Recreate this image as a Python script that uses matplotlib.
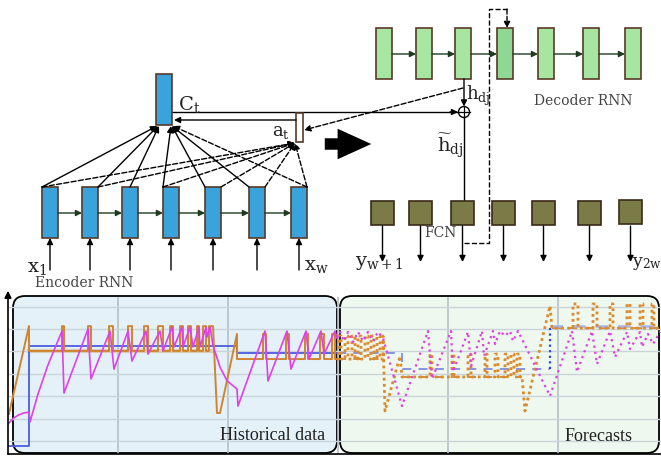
import matplotlib
matplotlib.use('Agg')
import matplotlib.pyplot as plt
from matplotlib.patches import Rectangle, FancyBboxPatch, Circle, FancyArrowPatch

plt.rcParams['mathtext.fontset'] = 'dejavuserif'

# ---- chart data (t = time step, value) ----
hist_blue_t = [0, 21, 21, 229, 229, 329]
hist_blue_v = [-0.22, -0.22, 4.24, 4.24, 3.93, 3.93]
hist_beige_t = [21, 205]
hist_beige_v = [4.02, 4.02]

orange_spikes_a = [(54, 56), (80, 83), (101, 105), (120, 124), (136, 140), (150, 155),
                   (162, 165), (172, 175), (180, 183), (189, 191), (195, 198)]
orange_spikes_b = [(255, 258), (278, 281), (297, 300), (312, 316), (324, 327)]
orange_fc_spikes_a = [(331, 333), (337, 340), (344, 347), (350, 353), (357, 360), (363, 366), (369, 372)]
orange_fc_spikes_b = [(422, 424), (444, 446), (460, 463), (477, 479), (487, 490), (497, 500),
                      (503, 506), (509, 512)]
orange_fc_spikes_c = [(565, 570), (585, 589), (602, 605), (619, 622), (632, 635), (644, 646)]

hist_magenta_t = [0, 5, 10, 15, 21, 22, 30, 40, 54, 56, 80, 83, 102, 106, 120, 124, 138, 140,
                  152, 155, 164, 166, 174, 175, 182, 185, 191, 192, 198, 199, 202, 205,
                  212, 219, 229, 230, 257, 260, 279, 283, 298, 301, 313, 316, 327, 329]
hist_magenta_v = [0.76, 1.0, 1.15, 1.24, 1.29, 0.85, 2.1, 3.4, 4.91, 2.14, 5.0, 2.77, 4.91, 3.21,
                  4.91, 3.57, 4.91, 3.88, 4.91, 4.02, 5.09, 4.2, 5.09, 4.2, 5.09, 4.2, 5.09, 4.2,
                  5.09, 4.64, 5.09, 4.26, 3.3, 2.69, 2.32, 1.56, 4.91, 2.68, 4.91, 3.21, 4.91,
                  3.66, 4.91, 3.88, 4.91, 4.6]

fc_magenta_t = [329, 332, 336, 340, 345, 350, 355, 360, 365, 370, 375, 394, 420, 424, 443, 445,
                460, 463, 474, 476, 485, 487, 492, 497, 502, 505, 510, 542, 564, 569, 584, 589,
                602, 607, 619, 622, 632, 634, 640, 645, 652]
fc_magenta_v = [4.6, 4.87, 4.46, 4.87, 4.42, 4.87, 4.46, 4.87, 4.46, 4.87, 4.6, 1.56, 4.91, 2.77,
                4.91, 3.08, 4.87, 3.35, 4.91, 3.79, 4.91, 4.33, 4.91, 4.69, 4.91, 4.46, 4.91,
                2.01, 4.91, 3.08, 4.91, 3.44, 4.91, 3.75, 4.87, 4.11, 4.87, 4.2, 4.78, 4.33, 4.87]

fc_blue_t = [329, 394, 394, 542]
fc_blue_v = [3.93, 3.93, 3.21, 3.21]
fc_blue_jump_v = [3.21, 5.13]
fc_blue_high_t = [542, 653]
fc_blue_high_v = [5.13, 5.13]

ORANGE = '#cf8530'
MAGENTA = '#e040e6'
BLUE = '#4a5de0'


def pulses(t0, t1, base, top, spans):
    t, v = [t0], [base]
    for a, b in spans:
        t += [a, a, b, b]
        v += [base, top, top, base]
    t.append(t1)
    v.append(base)
    return t, v


# orange historical series
ot, ov = [1, 21, 21], [1.21, 5.13, 4.02]
pt, pv = pulses(21, 201, 4.02, 5.13, orange_spikes_a)
ot += pt + [201, 205, 209, 212, 229, 229]
ov += pv + [5.13, 5.13, 1.25, 1.25, 4.78, 3.66]
pt, pv = pulses(229, 329, 3.66, 4.78, orange_spikes_b)
ot += pt
ov += pv

# orange forecast series
ft, fv = pulses(329, 375, 3.66, 4.69, orange_fc_spikes_a)
ft += [375, 377, 392, 394]
fv += [4.69, 1.34, 3.79, 2.86]
pt, pv = pulses(394, 514, 2.86, 3.88, orange_fc_spikes_b)
ft += pt + [517, 542, 544]
fv += pv + [1.34, 6.03, 5.04]
pt, pv = pulses(544, 653, 5.04, 6.12, orange_fc_spikes_c)
ft += pt
fv += pv

# ---- figure ----
fig = plt.figure(figsize=(6.61, 4.60), dpi=100)
ax = fig.add_axes([0, 0, 1, 1])
ax.set_xlim(0, 661)
ax.set_ylim(460, 0)
ax.axis('off')

EDGE = '#5a3a28'
enc_x = [42, 82, 122, 163, 205, 249, 291]
dec_x = [376, 416, 455, 497, 538, 583, 625]
fcn_x = [371, 409, 451, 492, 532, 578, 619]


def arrow(x0, y0, x1, y1, ls='-', color='k', lw=1.0, ms=9):
    ax.annotate('', xy=(x1, y1), xytext=(x0, y0),
                arrowprops=dict(arrowstyle='-|>', lw=lw, ls=ls, color=color,
                                mutation_scale=ms, shrinkA=0, shrinkB=0))


# encoder
for i, x in enumerate(enc_x):
    ax.add_patch(Rectangle((x, 188), 16, 51, fc='#3aa3dc', ec=EDGE, lw=1.2, zorder=3))
    arrow(x + 8, 271, x + 8, 239)
    if i < len(enc_x) - 1:
        arrow(x + 16, 214, enc_x[i + 1], 214, color='#1f3a1f')

# context box C_t and a_t
ax.add_patch(Rectangle((156, 75), 16, 51, fc='#3aa3dc', ec=EDGE, lw=1.2, zorder=3))
ax.add_patch(Rectangle((296, 114), 7, 29, fc='white', ec=EDGE, lw=1.2, zorder=3))

for sx, ex in [(42, 157), (98, 158), (130, 159), (163, 171), (205, 172), (249, 172)]:
    arrow(sx, 188, ex, 127)
arrow(307, 188, 173, 127, ls='--')
for sx in [42, 98, 163, 221, 265, 307]:
    arrow(sx, 188, 295, 144, ls='--')

ax.plot([172, 458], [113, 113], color='k', lw=1.0)
arrow(450, 113, 458, 113)
arrow(296, 121, 174, 121)
arrow(463, 89, 304, 131, ls='--')

# big arrow
ax.add_patch(FancyArrowPatch((322, 145), (374, 145),
                             arrowstyle='simple,head_length=2.2,head_width=2.0,tail_width=0.75',
                             mutation_scale=11, color='k', lw=0))

# decoder
for i, x in enumerate(dec_x):
    fc = '#8fd894' if i == 3 else '#a6e6a0'
    ax.add_patch(Rectangle((x, 29), 16, 51, fc=fc, ec=EDGE, lw=1.2, zorder=3))
    if i < len(dec_x) - 1:
        arrow(x + 16, 55, dec_x[i + 1], 55, color='#1f3a1f')

# sum node
ax.add_patch(Circle((464, 113), 5.5, fc='white', ec='k', lw=1.0, zorder=4))
ax.plot([458.5, 469.5], [113, 113], color='k', lw=0.9, zorder=5)
ax.plot([464, 464], [107.5, 118.5], color='k', lw=0.9, zorder=5)
arrow(464, 80, 464, 107.5)
ax.plot([464, 464], [118.5, 202], color='k', lw=1.0)

# FCN
for i, x in enumerate(fcn_x):
    ax.add_patch(Rectangle((x, 202 if i < 6 else 201), 23, 24, fc='#7b7b48', ec='#3a2a18',
                           lw=1.2, zorder=3))
    arrow(x + 11.5, 227, x + 11.5, 263)

# feedback loop
ax.plot([464, 489, 489, 507], [244, 244, 10, 10], color='k', lw=1.0, ls='--')
arrow(507, 10, 507, 29, ls='--')

# labels
tk = dict(color='#222222', zorder=6)
ax.text(178, 110, r'$\mathrm{C}_\mathrm{t}$', fontsize=14, ha='left', va='baseline', **tk)
ax.text(272, 136, r'$\mathrm{a}_\mathrm{t}$', fontsize=13, ha='left', va='baseline', **tk)
ax.text(466, 100, r'$\mathrm{h}_\mathrm{dj}$', fontsize=13, ha='left', va='baseline', **tk)
ax.text(437, 152, r'$\widetilde{\mathrm{h}}_\mathrm{dj}$', fontsize=14, ha='left', va='baseline', **tk)
ax.text(27, 272, r'$\mathrm{x}_1$', fontsize=14, ha='left', va='baseline', **tk)
ax.text(304, 270, r'$\mathrm{x}_\mathrm{w}$', fontsize=14, ha='left', va='baseline', **tk)
ax.text(355, 266, r'$\mathrm{y}_{\mathrm{w+1}}$', fontsize=14, ha='left', va='baseline', **tk)
ax.text(632, 266, r'$\mathrm{y}_{\mathrm{2w}}$', fontsize=12.5, ha='left', va='baseline', **tk)
ax.text(84, 283, 'Encoder RNN', fontsize=10, family='DejaVu Serif', ha='center', va='center',
        color='#444444')
ax.text(583, 101, 'Decoder RNN', fontsize=10, family='DejaVu Serif', ha='center', va='center',
        color='#444444')
ax.text(440, 233, 'FCN', fontsize=10, family='DejaVu Serif', ha='center', va='center',
        color='#444444')

# chart panels
ax.add_patch(FancyBboxPatch((13, 297), 324, 157, boxstyle='round,pad=0,rounding_size=12',
                            fc='#e4f1f9', ec='k', lw=1.3))
ax.add_patch(FancyBboxPatch((340, 297), 319, 157, boxstyle='round,pad=0,rounding_size=12',
                            fc='#eff8ee', ec='k', lw=1.3))

ax2 = fig.add_axes([8 / 661, 5 / 460, 653 / 661, 157 / 460])
ax2.set_facecolor('none')
ax2.set_xlim(0, 653)
ax2.set_ylim(-0.58, 6.43)
for s in ['top', 'right', 'left']:
    ax2.spines[s].set_visible(False)
ax2.spines['bottom'].set_color('k')
ax2.spines['bottom'].set_linewidth(1.2)
ax2.set_xticks([110, 220, 330, 440, 550])
ax2.set_yticks(range(7))
ax2.tick_params(length=0, labelbottom=False, labelleft=False)
ax2.grid(axis='y', color='#c9d3da', lw=1.0)
ax2.grid(axis='x', color='#b4c0c6', lw=1.2)
ax2.annotate('', xy=(0, 1.04), xytext=(0, 0), xycoords='axes fraction',
             arrowprops=dict(arrowstyle='-|>', lw=1.2, color='k', mutation_scale=10,
                             shrinkA=0, shrinkB=0), annotation_clip=False)

ax2.plot(hist_beige_t, hist_beige_v, color='#d8cdb2', lw=3)
ax2.plot(hist_blue_t, hist_blue_v, color=BLUE, lw=1.3)
ax2.plot(ot, ov, color=ORANGE, lw=1.4)
ax2.plot(hist_magenta_t, hist_magenta_v, color=MAGENTA, lw=1.2)

ax2.plot([329, 375], [3.66, 3.66], color=ORANGE, lw=1.3, ls=(0, (5, 4)))
ax2.plot([394, 514], [2.86, 2.86], color=ORANGE, lw=1.3, ls=(0, (5, 4)))
ax2.plot([544, 653], [5.04, 5.04], color=ORANGE, lw=1.3, ls=(0, (5, 4)))
ax2.plot(fc_blue_t, fc_blue_v, color='#7d8ce8', lw=1.3, ls=(0, (5, 4)))
ax2.plot([542, 542], fc_blue_jump_v, color='#3344ee', lw=1.6, ls=(0, (1, 1.5)))
ax2.plot(fc_blue_high_t, fc_blue_high_v, color='#a8b4ea', lw=1.8, ls=(0, (5, 4)))
ax2.plot(ft, fv, color='#dd8a2a', lw=2.0, ls=(0, (1, 1.2)))
ax2.plot(fc_magenta_t, fc_magenta_v, color=MAGENTA, lw=1.6, ls=(0, (1, 1.8)))

ax2.text(325, 436, 'Historical data', transform=ax.transData, ha='right', va='center',
         fontsize=13, family='Liberation Serif', color='#222222')
ax2.text(633, 437, 'Forecasts', transform=ax.transData, ha='right', va='center',
         fontsize=13, family='Liberation Serif', color='#222222')

fig.savefig('out.png', dpi=100)
